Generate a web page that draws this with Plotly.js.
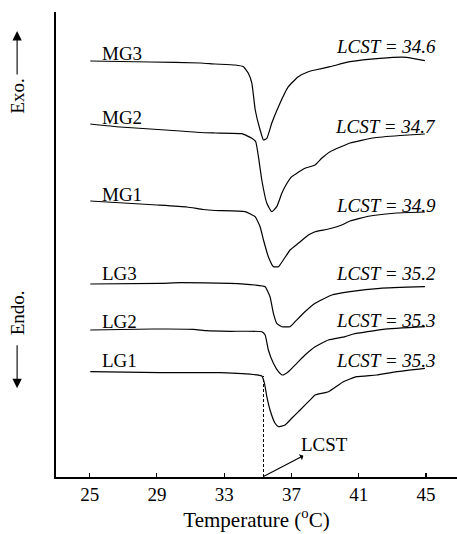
<!DOCTYPE html>
<html>
<head>
<meta charset="utf-8">
<script src="https://cdn.plot.ly/plotly-3.0.1.min.js"></script>
<style>
  html, body { margin: 0; padding: 0; background: #fff; }
  #chart { width: 457px; height: 534px; }
</style>
</head>
<body>
<div id="chart"></div>
<script>
// DSC thermograms (temperature in °C, heat flow in arbitrary offset units)
const seriesNames = ["MG3", "MG2", "MG1", "LG3", "LG2", "LG1"];
const lcstValues = [34.6, 34.7, 34.9, 35.2, 35.3, 35.3];

const tMG3 = [25.04, 28.61, 31.58, 32.46, 33.65, 34.15, 34.44, 34.65, 34.85, 35.14, 35.34, 35.54, 35.83, 36.23, 36.82, 37.41, 38.01, 38.41, 39.30, 40.49, 42.27, 43.85, 44.94];
const hMG3 = [416, 415, 414, 413, 412, 410.3, 403.7, 393.7, 367, 347, 337, 338.7, 353.7, 370.3, 390.3, 400.3, 405.3, 407, 410.3, 415.3, 418.7, 419.7, 416.3];

const tMG2 = [25.04, 26.82, 28.61, 30.39, 31.58, 32.46, 34.05, 34.65, 34.88, 35.04, 35.24, 35.54, 35.83, 36.13, 36.43, 36.62, 37.02, 37.32, 37.81, 38.41, 38.80, 39.30, 40.49, 41.85, 43.46, 44.94];
const hMG2 = [353, 350, 348, 346, 344.5, 344, 343.3, 338.7, 335.3, 320.3, 297, 273.7, 265.3, 270.3, 283.7, 290.3, 300.3, 303.7, 308.7, 312, 318.7, 325.3, 334, 339, 341.5, 343];

const tMG1 = [25.04, 29.00, 30.79, 31.75, 32.46, 34.25, 34.84, 35.14, 35.34, 35.63, 35.93, 36.23, 36.52, 36.92, 37.41, 38.01, 38.41, 39.20, 39.99, 40.49, 41.67, 43.26, 44.94];
const hMG1 = [276, 272, 270, 267.5, 266.5, 265.3, 260.3, 250.3, 237, 220.3, 210.3, 210.3, 217, 227, 233.7, 242, 245.3, 248, 252, 256, 261, 264, 265];

const tLG3 = [25.04, 29.20, 30.39, 33.36, 34.84, 35.44, 35.73, 35.93, 36.13, 36.43, 36.92, 37.22, 37.71, 38.41, 39.40, 40.49, 42.27, 44.94];
const hLG3 = [193, 193.7, 194.3, 193.7, 192, 190.3, 180.3, 163.7, 153.7, 150.3, 150.3, 155.3, 163.7, 173.7, 182, 185.3, 188.7, 190.3];

const tLG2 = [25.04, 28.80, 31.18, 31.97, 33.36, 35.24, 35.44, 35.63, 35.93, 36.23, 36.46, 36.82, 37.32, 37.81, 38.41, 39.20, 40.19, 40.68, 42.46, 44.94];
const hLG2 = [147, 148, 147.7, 146.3, 145.7, 145.3, 142, 127, 113.7, 105.3, 102, 105.3, 113.7, 122, 130.3, 137, 140.3, 143, 147.7, 150.3];

const tLG1 = [25.04, 29.20, 32.76, 35.24, 35.40, 35.54, 35.73, 36.03, 36.23, 36.62, 37.02, 37.52, 38.21, 38.41, 39.20, 40.09, 40.88, 42.07, 43.26, 44.94];
const hLG1 = [105.3, 104.3, 104.3, 101, 93.7, 80.3, 67, 53.7, 50.3, 52, 58.7, 67, 78.7, 82, 85.3, 95.3, 100.3, 102, 105.3, 108.7];

// label placement (temperature / level of each curve label)
const nameLabelT = 25.6;
const nameLabelH = [424, 360, 282.5, 204, 155.5, 117];
const lcstLabelT = 45.71;
const lcstLabelH = [430.5, 350.7, 271.7, 203.5, 157, 116.7];

// LCST marker for LG1
const lcstMarkT = [35.34, 35.34];
const lcstMarkH = [0, 101];
const lcstArrowTail = [35.34, 0.5];
const lcstTextPos = [38.97, 32.3];

const xTicks = [25, 29, 33, 37, 41, 45];

const FONT = "Liberation Serif, Times New Roman, serif";

const curves = [[tMG3, hMG3], [tMG2, hMG2], [tMG1, hMG1], [tLG3, hLG3], [tLG2, hLG2], [tLG1, hLG1]];
const traces = curves.map((c, i) => ({
  x: c[0], y: c[1], name: seriesNames[i], type: "scatter", mode: "lines",
  line: { color: "#000", width: 1.2, shape: "spline", smoothing: 0.4 },
  hoverinfo: "skip"
}));
traces.push({
  x: lcstMarkT, y: lcstMarkH, type: "scatter", mode: "lines",
  line: { color: "#000", width: 1, dash: "3px,2px" }, hoverinfo: "skip"
});

const annotations = [];
seriesNames.forEach((n, i) => {
  annotations.push({
    x: nameLabelT, y: nameLabelH[i], xref: "x", yref: "y", text: n,
    showarrow: false, xanchor: "left", yanchor: "middle",
    font: { family: FONT, size: 19, color: "#000" }
  });
  annotations.push({
    x: lcstLabelT, y: lcstLabelH[i], xref: "x", yref: "y",
    text: "<i>LCST = " + lcstValues[i].toFixed(1) + "</i>",
    showarrow: false, xanchor: "right", yanchor: "middle",
    font: { family: FONT, size: 19, color: "#000" }
  });
});
// "LCST" pointer: arrow from the base of the dashed line, head at the text
annotations.push({
  x: lcstArrowTail[0], y: lcstArrowTail[1], xref: "x", yref: "y",
  ax: lcstTextPos[0], ay: lcstTextPos[1], axref: "x", ayref: "y",
  text: "LCST", showarrow: true, arrowside: "start", arrowhead: 2,
  arrowsize: 1.7, arrowwidth: 1.1, arrowcolor: "#000", borderpad: 0,
  font: { family: FONT, size: 19, color: "#000" }
});
// Exo / Endo side labels with arrows
annotations.push({
  x: -0.097, y: 0.959, xref: "paper", yref: "paper",
  text: "Exo.", textangle: -90, showarrow: true, ax: 0, ay: 65.5,
  arrowhead: 2, arrowsize: 1.7, arrowwidth: 1.1, arrowcolor: "#000", borderpad: 4,
  font: { family: FONT, size: 19, color: "#000" }
});
annotations.push({
  x: -0.097, y: 0.191, xref: "paper", yref: "paper",
  text: "Endo.", textangle: -90, showarrow: true, ax: 0, ay: -75,
  arrowhead: 2, arrowsize: 1.7, arrowwidth: 1.1, arrowcolor: "#000", borderpad: 9,
  font: { family: FONT, size: 19, color: "#000" }
});

const layout = {
  width: 457, height: 534,
  margin: { l: 56, r: 0, t: 12, b: 57, pad: 0 },
  paper_bgcolor: "#fff", plot_bgcolor: "#fff",
  showlegend: false,
  font: { family: FONT, color: "#000" },
  xaxis: {
    range: [23.0, 46.85], tickvals: xTicks, ticktext: xTicks.map(String),
    ticks: "inside", ticklen: 4, tickwidth: 1.2, tickcolor: "#000",
    showline: true, linewidth: 1.6, linecolor: "#000",
    showgrid: false, zeroline: false,
    tickfont: { family: FONT, size: 19, color: "#000" },
    title: { text: "Temperature (<sup>o</sup>C)", font: { family: FONT, size: 21, color: "#000" }, standoff: 5 }
  },
  yaxis: {
    range: [0, 465], showline: true, linewidth: 2.2, linecolor: "#000",
    showticklabels: false, ticks: "", showgrid: false, zeroline: false
  },
  annotations: annotations
};

Plotly.newPlot("chart", traces, layout, { staticPlot: true, displayModeBar: false });
</script>
</body>
</html>
